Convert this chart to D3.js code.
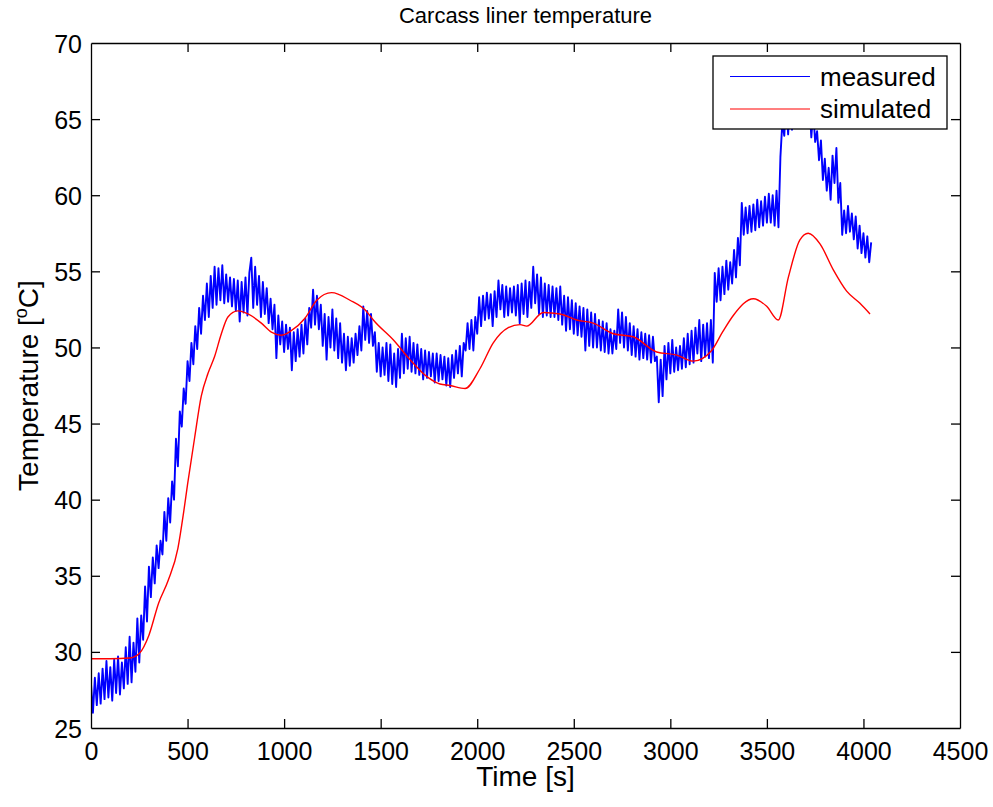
<!DOCTYPE html>
<html>
<head>
<meta charset="utf-8">
<script src="https://cdn.jsdelivr.net/npm/d3@7"></script>
<style>
  html, body { margin: 0; padding: 0; background: #fff; }
  svg { display: block; }
  text { font-family: "Liberation Sans", Arial, Helvetica, sans-serif; fill: #000; }
</style>
</head>
<body>
<svg id="chart" width="993" height="807"></svg>
<script>
// ---------------- DATA ----------------
const chartTitle = "Carcass liner temperature";
const xLabel = "Time [s]";
const xTicks = [0, 500, 1000, 1500, 2000, 2500, 3000, 3500, 4000, 4500];
const yTicks = [25, 30, 35, 40, 45, 50, 55, 60, 65, 70];
const seriesNames = ["measured", "simulated"];

// measured temperature, sampled every 10 s starting at t = 0
const measuredStep = 10;
const measuredTemp = [
  27.9, 26.0, 28.3, 26.5, 28.6, 26.6, 28.9, 26.9, 29.4, 27.0,
  29.0, 26.8, 29.5, 27.3, 29.7, 27.2, 29.3, 27.6, 30.3, 27.9,
  31.0, 28.0, 30.6, 28.7, 32.2, 29.3, 32.4, 30.8, 34.3, 32.0,
  35.6, 33.6, 36.2, 34.5, 37.0, 35.5, 37.3, 36.4, 39.2, 37.3,
  40.1, 38.5, 41.2, 40.0, 44.0, 42.2, 45.8, 44.8, 47.3, 46.3,
  49.1, 47.8, 50.3, 48.9, 51.4, 49.9, 52.6, 50.9, 53.4, 51.8,
  54.2, 52.0, 54.7, 52.6, 55.3, 52.8, 55.2, 53.1, 55.4, 52.9,
  54.8, 53.0, 54.6, 52.7, 54.5, 52.4, 54.4, 51.7, 54.3, 52.3,
  54.6, 52.1, 54.9, 55.9, 52.6, 55.3, 52.8, 54.7, 52.0, 54.3,
  52.2, 53.9, 51.6, 53.2, 51.2, 52.8, 49.3, 52.1, 50.2, 51.7,
  49.7, 51.5, 49.9, 51.3, 48.5, 51.0, 49.1, 51.2, 49.4, 51.5,
  49.6, 51.9, 50.2, 52.6, 51.3, 53.8, 51.5, 53.4, 51.2, 52.8,
  50.1, 52.2, 49.2, 52.0, 50.0, 52.5, 49.8, 51.9, 49.3, 51.6,
  49.0, 50.9, 48.5, 50.7, 48.8, 50.6, 49.0, 50.9, 49.5, 51.4,
  49.8, 52.7, 50.5, 52.4, 50.3, 52.2, 50.1, 51.0, 48.4, 50.3,
  48.1, 50.0, 48.2, 50.3, 47.8, 50.2, 47.6, 49.6, 47.4, 49.9,
  48.0, 50.9, 48.3, 50.6, 48.6, 50.7, 48.4, 50.3, 48.3, 50.2,
  48.2, 49.9, 47.9, 49.8, 48.0, 49.7, 48.1, 49.6, 47.7, 49.6,
  47.8, 49.5, 47.9, 49.4, 47.5, 49.3, 47.4, 49.5, 48.0, 49.8,
  48.3, 50.1, 48.1, 50.3, 49.8, 51.6, 49.9, 51.8, 49.8, 52.0,
  50.9, 53.3, 51.4, 53.4, 51.8, 53.6, 51.9, 53.5, 51.4, 53.7,
  52.0, 54.4, 52.5, 54.1, 52.0, 54.0, 52.1, 53.9, 52.3, 54.0,
  52.1, 54.1, 51.6, 54.2, 52.2, 54.4, 52.0, 54.3, 52.6, 55.3,
  52.9, 54.8, 52.2, 54.6, 52.0, 54.2, 52.1, 54.1, 52.0, 54.0,
  52.0, 53.9, 51.8, 54.0, 51.5, 53.4, 51.1, 53.3, 51.2, 53.1,
  50.9, 52.9, 50.8, 52.7, 50.7, 52.6, 49.8, 52.5, 50.1, 52.3,
  50.0, 52.2, 50.0, 51.8, 49.8, 51.7, 49.7, 51.6, 49.6, 51.2,
  49.6, 51.1, 49.9, 52.5, 50.3, 52.3, 50.0, 52.0, 49.8, 51.6,
  49.5, 51.4, 49.4, 51.2, 49.2, 51.0, 49.3, 50.9, 49.2, 50.8,
  49.0, 50.7, 49.1, 49.4, 46.4, 49.2, 46.8, 50.1, 47.9, 50.3,
  48.3, 50.5, 48.4, 50.0, 48.5, 50.1, 48.6, 50.6, 48.7, 50.9,
  48.9, 51.1, 49.0, 51.3, 49.6, 51.8, 49.1, 51.5, 49.4, 51.6,
  49.3, 51.8, 49.0, 54.9, 53.0, 55.2, 53.1, 55.3, 53.5, 55.7,
  53.8, 55.6, 54.2, 56.4, 54.6, 57.2, 55.4, 59.5, 57.4, 59.2,
  57.5, 59.3, 57.6, 59.4, 57.7, 59.7, 57.9, 59.6, 58.0, 59.9,
  58.2, 60.1, 58.2, 60.0, 58.0, 60.3, 57.9, 62.5, 64.8, 63.9,
  66.3, 64.0, 66.5, 64.3, 66.8, 64.6, 67.0, 64.7, 66.9, 64.6,
  66.8, 64.5, 66.2, 63.8, 65.5, 63.5, 64.2, 62.3, 63.6, 61.0,
  62.4, 60.3, 61.8, 59.7, 62.6, 60.8, 63.1, 59.5, 60.8, 57.4,
  59.0, 57.5, 59.3, 57.6, 58.8, 57.1, 58.6, 56.5, 58.0, 56.2,
  57.5, 55.9, 57.3, 55.6, 56.9
];

// simulated temperature (time [s], temperature [°C])
const simTime = [0, 100, 200, 250, 300, 350, 400, 450, 480, 500, 537, 571, 606, 640, 675, 709, 761, 813, 882, 934, 985, 1037, 1107, 1169, 1246, 1341, 1428, 1462, 1565, 1652, 1738, 1807, 1859, 1937, 2014, 2083, 2161, 2222, 2256, 2342, 2429, 2515, 2601, 2705, 2808, 2929, 3033, 3119, 3214, 3270, 3326, 3430, 3499, 3559, 3611, 3671, 3714, 3775, 3844, 3913, 3982, 4034];
const simTemp = [29.55, 29.55, 29.6, 29.9, 31.1, 33.2, 34.7, 36.8, 39.2, 41.0, 44.1, 46.8, 48.3, 49.4, 50.9, 52.0, 52.4, 52.2, 51.6, 51.0, 50.8, 51.1, 51.9, 53.1, 53.6, 53.1, 52.35, 51.8, 50.5, 49.2, 48.1, 47.6, 47.5, 47.3, 48.6, 50.3, 51.3, 51.5, 51.4, 52.3, 52.2, 51.8, 51.6, 50.9, 50.7, 49.7, 49.5, 49.1, 49.8, 51.0, 52.1, 53.2, 52.7, 51.8, 54.6, 57.06, 57.5, 56.8, 55.1, 53.7, 52.9, 52.2];

// ---------------- CHART ----------------
const svg = d3.select("#chart");
const margin = { left: 91, right: 33, top: 43, bottom: 79 };
const W = 993, H = 807;
const x0 = margin.left, x1 = W - margin.right;
const y0 = H - margin.bottom, y1 = margin.top;

const x = d3.scaleLinear().domain([0, 4500]).range([x0, x1]);
const y = d3.scaleLinear().domain([25, 70]).range([y0, y1]);

const tickLen = 9;
const fontTick = 25;

// data lines
const measured = measuredTemp.map((v, i) => ({ t: i * measuredStep, v }));
const simulated = simTime.map((t, i) => ({ t, v: simTemp[i] }));

svg.append("defs").append("clipPath").attr("id", "plotclip")
  .append("rect").attr("x", x0).attr("y", y1).attr("width", x1 - x0).attr("height", y0 - y1);

const plot = svg.append("g").attr("clip-path", "url(#plotclip)");

plot.append("path")
  .datum(measured)
  .attr("fill", "none")
  .attr("stroke", "#0000ff")
  .attr("stroke-width", 1.9)
  .attr("stroke-linejoin", "round")
  .attr("d", d3.line().x(d => x(d.t)).y(d => y(d.v)));

plot.append("path")
  .datum(simulated)
  .attr("fill", "none")
  .attr("stroke", "#ff0000")
  .attr("stroke-width", 1.4)
  .attr("d", d3.line().x(d => x(d.t)).y(d => y(d.v)).curve(d3.curveMonotoneX));

// axes (MATLAB style box with inward ticks)
const axB = svg.append("g").attr("transform", `translate(0,${y0})`)
  .call(d3.axisBottom(x).tickValues(xTicks).tickSizeInner(-tickLen).tickSizeOuter(0).tickPadding(14).tickFormat(d3.format("d")));
const axT = svg.append("g").attr("transform", `translate(0,${y1})`)
  .call(d3.axisTop(x).tickValues(xTicks).tickSizeInner(-tickLen).tickSizeOuter(0).tickFormat(""));
const axL = svg.append("g").attr("transform", `translate(${x0},0)`)
  .call(d3.axisLeft(y).tickValues(yTicks).tickSizeInner(-tickLen).tickSizeOuter(0).tickPadding(9).tickFormat(d3.format("d")));
const axR = svg.append("g").attr("transform", `translate(${x1},0)`)
  .call(d3.axisRight(y).tickValues(yTicks).tickSizeInner(-tickLen).tickSizeOuter(0).tickFormat(""));

[axB, axT, axL, axR].forEach(g => {
  g.selectAll("path.domain").attr("stroke", "#000").attr("stroke-width", 1.3);
  g.selectAll(".tick line").attr("stroke", "#000").attr("stroke-width", 1.3);
  g.selectAll(".tick text")
    .attr("font-family", "'Liberation Sans', Arial, sans-serif")
    .attr("font-size", fontTick).attr("fill", "#000");
});
// hide ticks at the box corners
[axB, axT].forEach(g => g.selectAll(".tick line").filter(d => d === 0 || d === 4500).remove());
[axL, axR].forEach(g => g.selectAll(".tick line").filter(d => d === 25 || d === 70).remove());
axB.selectAll(".tick text").attr("dy", "0.71em");
axL.selectAll(".tick text").attr("dy", "0.36em");

// title
svg.append("text")
  .attr("x", (x0 + x1) / 2).attr("y", 23)
  .attr("text-anchor", "middle")
  .attr("font-size", 22)
  .text(chartTitle);

// x label
svg.append("text")
  .attr("x", (x0 + x1) / 2).attr("y", 786)
  .attr("text-anchor", "middle")
  .attr("font-size", 28)
  .text(xLabel);

// y label with superscript
const yl = svg.append("text")
  .attr("transform", `translate(38,${(y0 + y1) / 2}) rotate(-90)`)
  .attr("text-anchor", "middle")
  .attr("font-size", 28);
yl.append("tspan").text("Temperature [");
yl.append("tspan").attr("font-size", 18).attr("dy", -11).text("o");
yl.append("tspan").attr("dy", 11).text("C]");

// legend
const lg = svg.append("g");
lg.append("rect")
  .attr("x", 713).attr("y", 56).attr("width", 234).attr("height", 73)
  .attr("fill", "#fff").attr("stroke", "#000").attr("stroke-width", 1.3);
const legendItems = [
  { name: seriesNames[0], color: "#0000ff", ly: 76.5 },
  { name: seriesNames[1], color: "#ff0000", ly: 109 }
];
legendItems.forEach(it => {
  lg.append("line")
    .attr("x1", 730).attr("x2", 810).attr("y1", it.ly).attr("y2", it.ly)
    .attr("stroke", it.color).attr("stroke-width", 1.2);
  lg.append("text")
    .attr("x", 820).attr("y", it.ly).attr("dy", "0.36em")
    .attr("font-size", 26)
    .text(it.name);
});
</script>
</body>
</html>
